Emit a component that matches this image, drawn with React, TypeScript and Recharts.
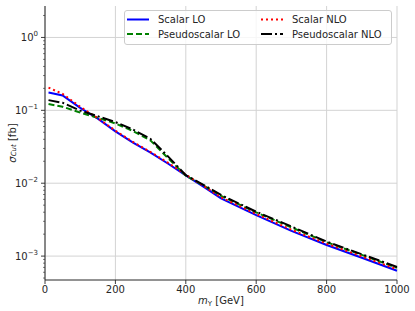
import React from 'react';
import { LineChart, Line, XAxis, YAxis, CartesianGrid } from 'recharts';

const mass = [10, 50, 100, 150, 200, 250, 300, 350, 400, 450, 500, 600, 700, 800, 900, 1000];
const scalarLO = [0.176, 0.16, 0.108, 0.077, 0.0515, 0.036, 0.0262, 0.0185, 0.0128, 0.009, 0.0062, 0.00365, 0.00222, 0.00142, 0.00095, 0.00063];
const scalarNLO = [0.205, 0.168, 0.112, 0.078, 0.0525, 0.0368, 0.0268, 0.019, 0.0131, 0.0092, 0.0064, 0.00378, 0.0023, 0.00148, 0.00099, 0.00066];
const pseudoLO = [0.122, 0.112, 0.093, 0.079, 0.066, 0.052, 0.0385, 0.022, 0.0127, 0.0093, 0.0067, 0.00398, 0.00248, 0.00155, 0.00104, 0.00069];
const pseudoNLO = [0.138, 0.127, 0.099, 0.083, 0.069, 0.0545, 0.0405, 0.0232, 0.0129, 0.0095, 0.0069, 0.00406, 0.00255, 0.00158, 0.00106, 0.00071];

const xTicks = [0, 200, 400, 600, 800, 1000];
const yMajor = [1e-3, 1e-2, 1e-1, 1];
const yMinorMult = [2, 3, 4, 5, 6, 7, 8, 9];
const yDomain = [4.7e-4, 2.7];

const yTicks: number[] = (() => {
  const t: number[] = [];
  for (const d of [1e-4, 1e-3, 1e-2, 1e-1, 1]) {
    t.push(d);
    for (const m of yMinorMult) t.push(d * m);
  }
  return t.filter((v) => v >= yDomain[0] && v <= yDomain[1]);
})();

const data = mass.map((m, i) => ({
  m,
  sLO: scalarLO[i],
  sNLO: scalarNLO[i],
  pLO: pseudoLO[i],
  pNLO: pseudoNLO[i],
}));

const FONT = 'DejaVu Sans';
const INK = '#262626';

const YTick = (props: any) => {
  const { x, y, payload } = props;
  const v = payload.value as number;
  const lg = Math.log10(v);
  const e = Math.round(lg);
  const major = Math.abs(lg - e) < 1e-6;
  return (
    <g>
      <line x1={x - (major ? 4 : 2)} x2={x} y1={y} y2={y} stroke={INK} strokeWidth={major ? 0.9 : 0.6} />
      {major && (
        <text x={x - 7} y={y} dy={3.6} textAnchor="end" fontSize={10} fontFamily={FONT} fill={INK}>
          10
          <tspan dy={-4.8} fontSize={7}>{e < 0 ? '\u2212' + -e : String(e)}</tspan>
        </text>
      )}
    </g>
  );
};

const XTick = (props: any) => {
  const { x, y, payload } = props;
  return (
    <g>
      <line x1={x} x2={x} y1={y} y2={y + 4} stroke={INK} strokeWidth={0.9} />
      <text x={x} y={y + 13} textAnchor="middle" fontSize={10} fontFamily={FONT} fill={INK}>
        {payload.value}
      </text>
    </g>
  );
};

const YLabel = (props: any) => {
  const vb = props.viewBox;
  const cx = vb.x + 7;
  const cy = vb.y + vb.height / 2;
  return (
    <text
      x={cx}
      y={cy}
      transform={`rotate(-90 ${cx} ${cy})`}
      textAnchor="middle"
      dominantBaseline="central"
      fontSize={10}
      fontFamily={FONT}
      fill={INK}
    >
      <tspan fontStyle="italic">σ</tspan>
      <tspan fontStyle="italic" fontSize={7} dy={2}>Cut</tspan>
      <tspan dy={-2}> [fb]</tspan>
    </text>
  );
};

const XLabel = (props: any) => {
  const vb = props.viewBox;
  const cx = vb.x + vb.width / 2;
  const cy = vb.y + 24;
  return (
    <text x={cx} y={cy} textAnchor="middle" fontSize={10} fontFamily={FONT} fill={INK}>
      <tspan fontStyle="italic">m</tspan>
      <tspan fontSize={7} dy={2}>Υ</tspan>
      <tspan dy={-2}> [GeV]</tspan>
    </text>
  );
};

const legendItems = [
  { name: 'Scalar LO', color: '#0000ff', dash: undefined as string | undefined },
  { name: 'Pseudoscalar LO', color: '#008000', dash: '6 3' },
  { name: 'Scalar NLO', color: '#ff0000', dash: '2 3' },
  { name: 'Pseudoscalar NLO', color: '#000000', dash: '11 3 2 3' },
];

const LegendBox = () => (
  <svg width={268} height={35} style={{ display: 'block' }}>
    <rect x={0.5} y={0.5} width={267} height={34} rx={2.5} fill="rgba(255,255,255,0.8)" stroke="#cccccc" />
    {legendItems.map((it, i) => {
      const col = Math.floor(i / 2);
      const row = i % 2;
      const lx = 3 + col * 134;
      const ly = 9.5 + row * 14.5;
      return (
        <g key={it.name}>
          <line x1={lx} x2={lx + 22} y1={ly} y2={ly} stroke={it.color} strokeWidth={2} strokeDasharray={it.dash} />
          <text x={lx + 31} y={ly + 3.6} fontSize={10} fontFamily={FONT} fill={INK}>
            {it.name}
          </text>
        </g>
      );
    })}
  </svg>
);

export default function App() {
  return (
    <div style={{ position: 'absolute', left: 0, top: 0, width: 415, height: 311, background: '#fff' }}>
      <LineChart width={415} height={311} data={data} margin={{ top: 6, right: 18, left: 5, bottom: 6 }}>
        <CartesianGrid
          stroke="#d3d3d3"
          strokeWidth={1}
          horizontalValues={yMajor}
          verticalValues={xTicks}
        />
        <XAxis
          dataKey="m"
          type="number"
          domain={[0, 1000]}
          ticks={xTicks}
          interval={0}
          height={25}
          tickSize={0}
          tickMargin={0}
          tickLine={false}
          tick={<XTick />}
          axisLine={{ stroke: INK, strokeWidth: 1 }}
          label={<XLabel />}
        />
        <XAxis
          xAxisId="top"
          orientation="top"
          type="number"
          domain={[0, 1000]}
          height={0}
          tick={false}
          tickLine={false}
          axisLine={{ stroke: INK, strokeWidth: 1 }}
        />
        <YAxis
          type="number"
          scale="log"
          domain={yDomain}
          ticks={yTicks}
          interval={0}
          allowDataOverflow
          width={40}
          tickSize={0}
          tickMargin={0}
          tickLine={false}
          tick={<YTick />}
          axisLine={{ stroke: INK, strokeWidth: 1 }}
          label={<YLabel />}
        />
        <YAxis
          yAxisId="right"
          orientation="right"
          type="number"
          domain={[0, 1]}
          width={0}
          tick={false}
          tickLine={false}
          axisLine={{ stroke: INK, strokeWidth: 1 }}
        />
        <Line dataKey="sLO" stroke="#0000ff" strokeWidth={2} dot={false} isAnimationActive={false} />
        <Line dataKey="pLO" stroke="#008000" strokeWidth={2} strokeDasharray="6 3" dot={false} isAnimationActive={false} />
        <Line dataKey="sNLO" stroke="#ff0000" strokeWidth={2} strokeDasharray="2 3" dot={false} isAnimationActive={false} />
        <Line dataKey="pNLO" stroke="#000000" strokeWidth={2} strokeDasharray="11 3 2 3" dot={false} isAnimationActive={false} />
      </LineChart>
      <div style={{ position: 'absolute', left: 124, top: 10 }}>
        <LegendBox />
      </div>
    </div>
  );
}
